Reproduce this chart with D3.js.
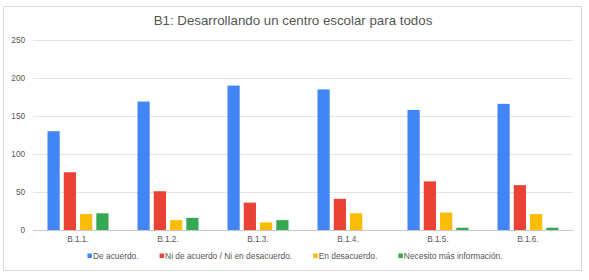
<!DOCTYPE html>
<html>
<head>
<meta charset="utf-8">
<script src="https://cdn.jsdelivr.net/npm/d3@7"></script>
<style>
  body { margin: 0; background: #fff; }
  svg { font-family: "Liberation Sans", Arial, sans-serif; }
</style>
</head>
<body>
<div id="chart"></div>
<script>
// data
const categories = ['B.1.1.', 'B.1.2.', 'B.1.3.', 'B.1.4.', 'B.1.5.', 'B.1.6.'];
const seriesNames = ['De acuerdo.', 'Ni de acuerdo / Ni en desacuerdo.', 'En desacuerdo.', 'Necesito más información.'];
const deAcuerdo = [130, 169, 190, 185, 158, 166];
const niNi = [76, 51, 36, 41, 64, 59];
const enDesacuerdo = [21, 13, 10, 22, 23, 21];
const masInfo = [22, 16, 13, 0, 3, 3];
const yTicks = [0, 50, 100, 150, 200, 250];

const series = [deAcuerdo, niNi, enDesacuerdo, masInfo];
const colors = ['#4285f4', '#ea4335', '#fbbc04', '#34a853'];

const width = 589, height = 280;
const plot = { left: 33, right: 573, top: 40, bottom: 230 };

const svg = d3.select('#chart')
    .append('svg')
    .attr('width', width)
    .attr('height', height);

// frame around the chart
svg.append('rect')
    .attr('x', 3.5).attr('y', 6.5)
    .attr('width', 578).attr('height', 264)
    .attr('fill', '#fff')
    .attr('stroke', '#d9d9d9');

svg.append('text')
    .attr('x', 293).attr('y', 25)
    .attr('text-anchor', 'middle')
    .style('font-size', '13.3px')
    .style('fill', '#555')
    .text('B1: Desarrollando un centro escolar para todos');

const y = d3.scaleLinear().domain([0, 250]).range([plot.bottom, plot.top]);

const x0 = d3.scaleBand()
    .domain(categories)
    .range([plot.left, plot.right])
    .paddingInner(0.322)
    .paddingOuter(0.161);

const x1 = d3.scaleBand()
    .domain(d3.range(series.length))
    .range([0, x0.bandwidth()])
    .paddingInner(0.25);

// gridlines + y labels
const yAxis = d3.axisLeft(y).tickValues(yTicks).tickSize(-(plot.right - plot.left)).tickPadding(8);
const gy = svg.append('g')
    .attr('transform', `translate(${plot.left},0)`)
    .call(yAxis);
gy.select('.domain').remove();
gy.selectAll('line').attr('stroke', d => d === 0 ? '#c8c8c8' : '#e3e3e3');
gy.selectAll('text')
    .style('font-size', '8.2px')
    .style('fill', '#555');

// bars
const groups = svg.append('g')
    .selectAll('g')
    .data(categories)
    .join('g')
    .attr('transform', d => `translate(${x0(d)},0)`);

groups.selectAll('rect')
    .data((d, i) => series.map((s, k) => ({ k, v: s[i] })))
    .join('rect')
    .attr('x', d => x1(d.k))
    .attr('width', x1.bandwidth())
    .attr('y', d => y(d.v))
    .attr('height', d => y(0) - y(d.v))
    .attr('fill', d => colors[d.k]);

// x labels
const xAxis = d3.axisBottom(x0).tickSize(0).tickPadding(6);
const gx = svg.append('g')
    .attr('transform', `translate(0,${plot.bottom})`)
    .call(xAxis);
gx.select('.domain').remove();
gx.selectAll('text')
    .style('font-size', '8.2px')
    .style('fill', '#555');

// legend, centred under the plot
const legend = svg.append('g').attr('transform', 'translate(0,259)');
const items = legend.selectAll('g')
    .data(seriesNames)
    .join('g');
items.append('rect')
    .attr('y', -5.5)
    .attr('width', 4.5).attr('height', 4.5)
    .attr('fill', (d, i) => colors[i]);
items.append('text')
    .attr('x', 5.5)
    .attr('y', 0)
    .style('font-size', '8.4px')
    .style('fill', '#555')
    .text(d => d);

const gap = 21;
let widths = [];
items.each(function () { widths.push(5.5 + this.querySelector('text').getComputedTextLength()); });
const total = d3.sum(widths) + gap * (widths.length - 1);
let cx = 295 - total / 2;
items.attr('transform', (d, i) => {
    const t = `translate(${cx},0)`;
    cx += widths[i] + gap;
    return t;
});
</script>
</body>
</html>
